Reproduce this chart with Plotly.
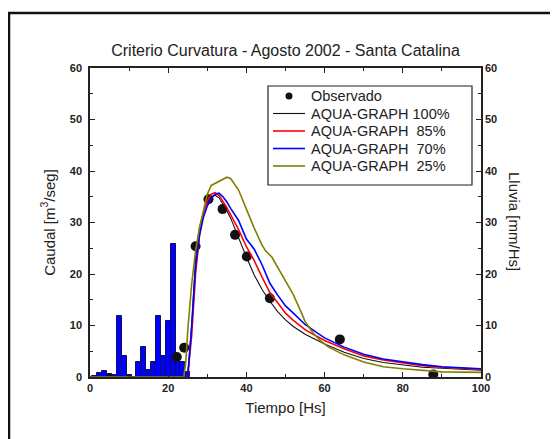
import plotly.graph_objects as go

# rain (Lluvia, mm/Hs)
rain_t = [1.25, 2.5, 3.75, 5, 6.25, 7.5, 8.75, 10, 11.25, 12.5, 13.75, 15,
          16.25, 17.5, 18.75, 20, 21.25, 22.5, 23.75, 25]
rain_mm = [0.2, 0.85, 1.1, 0.6, 0.3, 11.8, 4.1, 0.3, 0, 3.0, 5.9, 1.4,
           3.0, 11.8, 4.1, 10.8, 25.9, 4.1, 3.0, 0.9]

# observed discharge
obs_t = [5, 10, 22.2, 24.1, 27.0, 30.3, 33.9, 37.1, 40.1, 46.0, 63.9, 87.8]
obs_q = [-0.4, -0.6, 3.9, 5.7, 25.4, 34.5, 32.6, 27.6, 23.4, 15.3, 7.3, 0.5]

# AQUA-GRAPH 100%
t_100 = [0, 24, 25, 26, 27, 28, 29, 30, 31, 32, 33, 34, 35, 36, 38, 40, 42, 44,
         46, 48, 50, 52, 55, 58, 60, 65, 70, 75, 80, 85, 90, 95, 100]
q_100 = [0, 0, 0.5, 10, 23, 29, 31.8, 34, 35.0, 35.3, 34.8, 33.6, 32.3, 30.8,
         27.0, 23.3, 19.8, 17.0, 14.7, 12.7, 11.1, 9.8, 8.3, 7.1, 6.4, 4.8, 3.6,
         2.8, 2.3, 1.9, 1.7, 1.5, 1.3]

# AQUA-GRAPH 85%
t_85 = [0, 24, 25, 26, 27, 28, 29, 30, 31, 32, 33, 34, 35, 36, 38, 40, 42, 44,
        46, 48, 50, 52, 55, 58, 60, 65, 70, 75, 80, 85, 90, 95, 100]
q_85 = [0, 0, 0.2, 8, 20, 27.5, 31.8, 34.2, 35.5, 35.8, 35.3, 34.2, 32.9, 31.5,
        28.6, 25.3, 22.6, 19.4, 16.4, 14.4, 12.4, 11.0, 9.2, 7.9, 7.1, 5.5, 4.1,
        3.3, 2.7, 2.2, 1.9, 1.7, 1.5]

# AQUA-GRAPH 70%
t_70 = [0, 24, 25, 26, 27, 28, 29, 30, 31, 32, 33, 34, 35, 36, 38, 40, 42, 44,
        46, 48, 50, 52, 55, 58, 60, 65, 70, 75, 80, 85, 90, 95, 100]
q_70 = [0, 0, 0, 9.8, 21.5, 27.5, 31, 33.2, 34.7, 35.5, 35.7, 35.0, 34.0, 32.7,
        30.4, 26.8, 24.8, 21.8, 18.2, 15.9, 13.8, 12.4, 10.2, 8.6, 7.6, 5.8, 4.4,
        3.5, 2.9, 2.4, 2.0, 1.8, 1.6]

# AQUA-GRAPH 25%
t_25 = [0, 24, 24.5, 25, 26, 27, 28, 29, 30, 31, 32, 33, 34, 35, 36, 38, 40, 42,
        44, 45, 46.5, 48, 50, 52, 54, 55, 57, 59, 61, 65, 70, 75, 80, 85, 90, 100]
q_25 = [0, 0, 3, 9, 18, 24.5, 29, 32.4, 35.5, 37.2, 37.6, 38.0, 38.4, 38.8, 38.5,
        36.3, 32.6, 28.9, 25.6, 24.4, 23.3, 21.3, 18.6, 16.0, 12.6, 10.8, 8.6,
        7.0, 5.8, 4.3, 2.9, 2.0, 1.6, 1.3, 1.0, 0.9]

legend_names = ["Observado", "AQUA-GRAPH 100%", "AQUA-GRAPH\u00a0 85%",
                "AQUA-GRAPH\u00a0 70%", "AQUA-GRAPH\u00a0 25%"]
legend_colors = ["#111111", "#111111", "#ff0000", "#0000ff", "#808000"]

FONT = "Arial, Liberation Sans, sans-serif"
INK = "#222222"

# the page has an 8px body margin; plot area sits at x 90..481, y 68..377 in the window
PL, PR, PT, PB = 90, 481, 68, 377


def px(x):
    return (x - PL) / (PR - PL)


def py(y):
    return (PB - y) / (PB - PT)


fig = go.Figure()

fig.add_trace(go.Bar(x=rain_t, y=rain_mm, width=1.25, showlegend=False,
                     marker=dict(color="#0000ff", line=dict(color="#10105a", width=1))))

fig.add_trace(go.Scatter(x=obs_t, y=obs_q, mode="markers", name=legend_names[0],
                         marker=dict(color="#111111", size=10)))
fig.add_trace(go.Scatter(x=t_100, y=q_100, mode="lines", name=legend_names[1],
                         line=dict(color=legend_colors[1], width=1.1)))
fig.add_trace(go.Scatter(x=t_85, y=q_85, mode="lines", name=legend_names[2],
                         line=dict(color=legend_colors[2], width=1.6)))
fig.add_trace(go.Scatter(x=t_70, y=q_70, mode="lines", name=legend_names[3],
                         line=dict(color=legend_colors[3], width=1.6)))
fig.add_trace(go.Scatter(x=t_25, y=q_25, mode="lines", name=legend_names[4],
                         line=dict(color=legend_colors[4], width=1.6)))

# dummy trace so the right (Lluvia) axis gets drawn
fig.add_trace(go.Scatter(x=[None], y=[None], yaxis="y2", hoverinfo="skip"))

tickfont = dict(family=FONT, size=11, color=INK, weight="bold")
axis_common = dict(
    range=[0, 60], dtick=10, ticks="inside", ticklen=5, tickwidth=1.2,
    tickcolor=INK, showline=True, linecolor=INK, linewidth=1.5,
    showgrid=False, zeroline=False, tickfont=tickfont,
    minor=dict(ticks="inside", ticklen=3, dtick=5, tickcolor=INK, tickwidth=1.2),
)
title_font = dict(family=FONT, size=15, color=INK)

# hand-drawn legend (Origin style: tight rows in a box)
shapes = [
    dict(type="rect", xref="paper", yref="paper",
         x0=px(268), x1=px(472), y0=py(185), y1=py(86),
         line=dict(color=INK, width=1.2), fillcolor="white", layer="below"),
    dict(type="rect", xref="paper", yref="paper",
         x0=px(9), x1=px(555), y0=py(460), y1=py(13),
         line=dict(color="#111111", width=2.5)),
]
annotations = []
row_y = [96, 113.5, 131, 148.5, 166]
for i, (name, col) in enumerate(zip(legend_names, legend_colors)):
    yy = row_y[i]
    if i == 0:
        shapes.append(dict(type="circle", xref="paper", yref="paper",
                           x0=px(285.5), x1=px(292.5), y0=py(yy + 3.5), y1=py(yy - 3.5),
                           fillcolor=col, line=dict(color=col, width=0)))
    else:
        shapes.append(dict(type="line", xref="paper", yref="paper",
                           x0=px(273), x1=px(305), y0=py(yy), y1=py(yy),
                           line=dict(color=col, width=1.1 if i == 1 else 1.6)))
    annotations.append(dict(text=name, xref="paper", yref="paper",
                            x=px(309), y=py(yy), xanchor="left", yanchor="middle",
                            showarrow=False,
                            font=dict(family=FONT, size=14.5, color=INK)))

# right axis title reads top-to-bottom in the original
annotations.append(dict(text="Lluvia [mm/Hs]", xref="paper", yref="paper",
                        x=px(515), y=py(221), xanchor="center", yanchor="middle",
                        textangle=90, showarrow=False, font=title_font))

fig.update_layout(
    width=550, height=431,
    margin=dict(l=82, r=77, t=60, b=62),
    paper_bgcolor="white", plot_bgcolor="white",
    font=dict(family=FONT, color=INK),
    showlegend=False,
    bargap=0,
    title=dict(text="Criterio Curvatura - Agosto 2002 - Santa Catalina",
               x=0.5, xref="paper", xanchor="center",
               y=1 - 42 / 431, yanchor="middle",
               font=dict(family=FONT, size=16, color=INK)),
    xaxis=dict(range=[0, 100], dtick=20, ticks="inside", ticklen=5, tickwidth=1.2,
               tickcolor=INK, showline=True, linecolor=INK, linewidth=1.5,
               mirror="ticks", showgrid=False, zeroline=False, tickfont=tickfont,
               minor=dict(ticks="inside", ticklen=3, dtick=10, tickcolor=INK,
                          tickwidth=1.2),
               title=dict(text="Tiempo [Hs]", standoff=10, font=title_font)),
    yaxis=dict(**axis_common, ticklabelstandoff=4,
               title=dict(text="Caudal [m<sup>3</sup>/seg]", standoff=11,
                          font=title_font)),
    yaxis2=dict(**axis_common, overlaying="y", side="right"),
    shapes=shapes,
    annotations=annotations,
)

fig.write_html("out.html")
